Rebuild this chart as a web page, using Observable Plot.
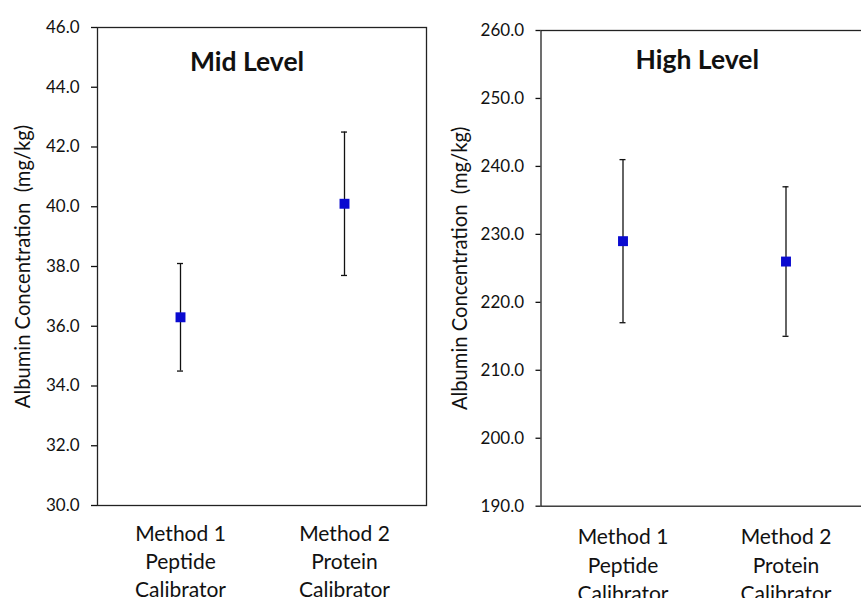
<!DOCTYPE html>
<html>
<head>
<meta charset="utf-8">
<script src="https://cdn.jsdelivr.net/npm/d3@7"></script>
<script src="https://cdn.jsdelivr.net/npm/@observablehq/plot@0.6"></script>
<style>
  html, body { margin: 0; padding: 0; background: #fff; overflow: hidden; }
  #wrap { display: flex; width: 861px; height: 598px; overflow: hidden; }
  #wrap svg { flex: none; }
</style>
</head>
<body>
<div id="wrap"></div>
<script>
// ---- data ----
const categories = ["Method 1\nPeptide\nCalibrator", "Method 2\nProtein\nCalibrator"];
const midMean = [36.3, 40.1];
const midLow = [34.5, 37.7];
const midHigh = [38.1, 42.5];
const highMean = [229.0, 226.0];
const highLow = [217.0, 215.0];
const highHigh = [241.0, 237.0];
const midTicks = [30, 32, 34, 36, 38, 40, 42, 44, 46];
const highTicks = [190, 200, 210, 220, 230, 240, 250, 260];
const yLabel = "Albumin Concentration  (mg/kg)";
const titles = ["Mid Level", "High Level"];

const font = "Lato, 'Open Sans', sans-serif";
const ink = "#111";

function panel({mean, low, high, ticks, title, width, marginLeft, marginRight, marginTop, marginBottom,
                capInset, titleDx, titleDy, labelDx, xLabelDy, tickSize}) {
  const rows = categories.map((c, i) => ({cat: c, mean: mean[i], low: low[i], high: high[i]}));
  return Plot.plot({
    width, height: 598,
    marginLeft, marginRight, marginTop, marginBottom,
    style: {fontFamily: font, color: ink, background: "white", overflow: "visible"},
    x: {type: "band", domain: categories, padding: 0},
    y: {domain: [ticks[0], ticks[ticks.length - 1]]},
    marks: [
      Plot.frame({stroke: "#222", strokeWidth: 1.3}),
      Plot.axisY({ticks, tickFormat: d => d.toFixed(1), tickSize, tickPadding: 12,
        fontSize: 17, label: null, stroke: ink, strokeWidth: 1.3, fill: ink}),
      Plot.axisX({tickSize: 0, tickPadding: xLabelDy, fontSize: 21, lineHeight: 1.35,
        label: null, lineAnchor: "top", fill: ink}),
      Plot.ruleX(rows, {x: "cat", y1: "low", y2: "high", stroke: ink, strokeWidth: 1.3}),
      Plot.tickY(rows, {x: "cat", y: "low", stroke: ink, strokeWidth: 1.3, insetLeft: capInset, insetRight: capInset}),
      Plot.tickY(rows, {x: "cat", y: "high", stroke: ink, strokeWidth: 1.3, insetLeft: capInset, insetRight: capInset}),
      Plot.dot(rows, {x: "cat", y: "mean", symbol: "square", r: 5.6, fill: "#0a0ad0", stroke: "none"}),
      Plot.text([title], {frameAnchor: "top", dx: titleDx, dy: titleDy, fontSize: 26.5,
        fontWeight: "bold", fill: ink}),
      Plot.text([yLabel], {frameAnchor: "left", textAnchor: "middle", rotate: -90, dx: labelDx,
        fontSize: 20.2, fill: ink})
    ]
  });
}

const left = panel({
  mean: midMean, low: midLow, high: midHigh, ticks: midTicks, title: titles[0],
  width: 430, marginLeft: 97, marginRight: 4, marginTop: 27, marginBottom: 93,
  capInset: 79, titleDx: -15, titleDy: 25, labelDx: -74, xLabelDy: 15, tickSize: 6
});
const right = panel({
  mean: highMean, low: highLow, high: highHigh, ticks: highTicks, title: titles[1],
  width: 437, marginLeft: 110.5, marginRight: 0, marginTop: 30, marginBottom: 92.3,
  capInset: 78.5, titleDx: -7, titleDy: 20, labelDx: -80.5, xLabelDy: 18, tickSize: 5
});
document.getElementById("wrap").append(left, right);
</script>
</body>
</html>
